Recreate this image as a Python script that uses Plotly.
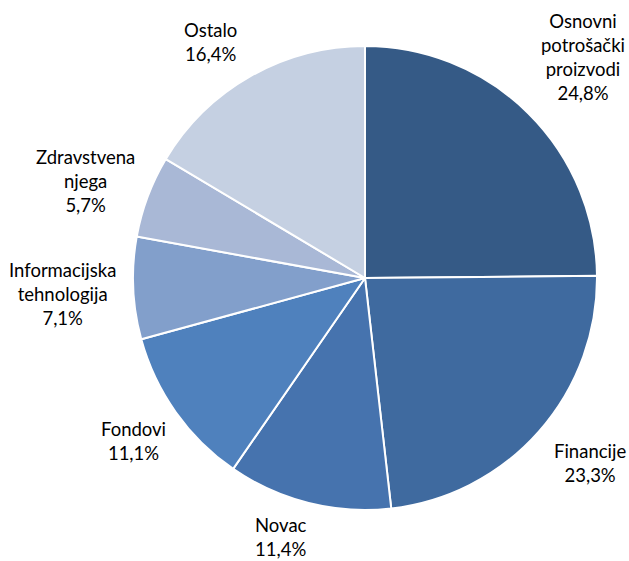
import plotly.graph_objects as go

categories = ["Osnovni<br>potrošački<br>proizvodi", "Financije", "Novac", "Fondovi",
              "Informacijska<br>tehnologija", "Zdravstvena<br>njega", "Ostalo"]
values = [24.8, 23.3, 11.4, 11.1, 7.1, 5.7, 16.4]
colors = ["#355A86", "#3F6A9F", "#4673AE", "#4F81BD", "#829FCB", "#A9B8D6", "#C5D0E2"]
pct_text = [f"{v:.1f}%".replace(".", ",") for v in values]

# label block centres (pixels in the 629x561 canvas)
label_px = [(583, 57), (590, 463), (281, 537), (133, 441), (62, 294), (85, 181), (210, 42)]

W, H = 629, 561
fig = go.Figure(go.Pie(
    labels=categories,
    values=values,
    sort=False,
    direction="clockwise",
    rotation=0,
    textinfo="none",
    hoverinfo="label+percent",
    marker=dict(colors=colors, line=dict(color="white", width=2)),
    showlegend=False,
    domain=dict(x=[133/W, 597/W], y=[1-510/H, 1-46/H]),
))
for cat, pct, (px, py) in zip(categories, pct_text, label_px):
    fig.add_annotation(
        x=px/W, y=1-py/H, xref="paper", yref="paper",
        text=f"{cat}<br>{pct}", showarrow=False,
        xanchor="center", yanchor="middle", align="center",
        font=dict(family="Lato, Liberation Sans, sans-serif", size=18.5, color="black"),
    )
fig.update_layout(
    width=W, height=H,
    margin=dict(l=0, r=0, t=0, b=0),
    paper_bgcolor="white",
    plot_bgcolor="white",
)
fig.write_html("out.html", config={"displayModeBar": False},
               post_script="document.body.style.margin='0';document.body.style.overflow='hidden';")
